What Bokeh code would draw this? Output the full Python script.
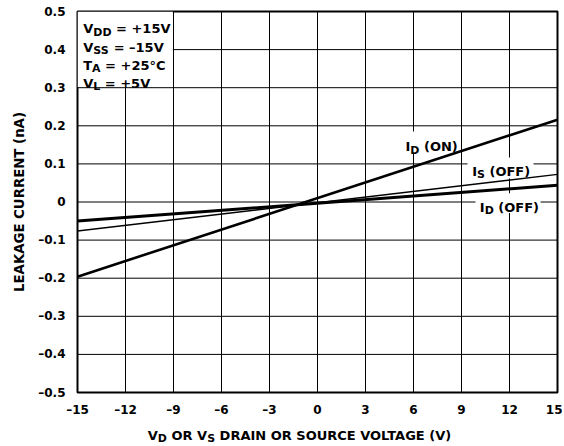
from bokeh.plotting import figure
from bokeh.models import Label, FixedTicker, Range1d
from bokeh.layouts import column
from bokeh.embed import file_html
from bokeh.resources import INLINE

# ---- data ----
x_ticks = [-15, -12, -9, -6, -3, 0, 3, 6, 9, 12, 15]
x_tick_labels = ["–15", "–12", "–9", "–6", "–3", "0", "3", "6", "9", "12", "15"]
y_ticks = [-0.5, -0.4, -0.3, -0.2, -0.1, 0, 0.1, 0.2, 0.3, 0.4, 0.5]
y_tick_labels = ["–0.5", "–0.4", "–0.3", "–0.2", "–0.1", "0", "0.1", "0.2", "0.3", "0.4", "0.5"]

v_drain = [-15, 15]
id_on = [-0.196, 0.216]
is_off = [-0.076, 0.0725]
id_off = [-0.05, 0.044]

FONT = "DejaVu Sans"
W = 562
ML, MR, MT, MB = 77, 5, 11, 26
FH = 382
H1 = MT + FH + MB
H2 = 25
PX_PER_Y = FH / 1.0

p = figure(width=W, height=H1, x_range=Range1d(-15, 15), y_range=Range1d(-0.5, 0.5),
           output_backend="svg", toolbar_location=None,
           min_border_left=ML, min_border_right=MR, min_border_top=MT, min_border_bottom=MB)
p.background_fill_color = "white"
p.border_fill_color = "white"
p.outline_line_color = "black"
p.outline_line_width = 2
p.grid.visible = False

p.xaxis.ticker = FixedTicker(ticks=x_ticks)
p.yaxis.ticker = FixedTicker(ticks=y_ticks)
p.xaxis.major_label_overrides = {t: l for t, l in zip(x_ticks, x_tick_labels)}
p.yaxis.major_label_overrides = {t: l for t, l in zip(y_ticks, y_tick_labels)}

for ax in (p.xaxis, p.yaxis):
    ax.axis_line_color = None
    ax.major_tick_line_color = None
    ax.minor_tick_line_color = None
    ax.major_label_text_font = FONT
    ax.major_label_text_font_style = "bold"
    ax.major_label_text_font_size = "12px"
    ax.major_label_text_color = "black"
p.xaxis.major_label_standoff = 4
p.yaxis.major_label_standoff = 6
p.yaxis.axis_label = "LEAKAGE CURRENT (nA)"
p.yaxis.axis_label_text_font = FONT
p.yaxis.axis_label_text_font_style = "bold"
p.yaxis.axis_label_text_font_size = "13.3px"
p.yaxis.axis_label_text_color = "black"
p.yaxis.axis_label_standoff = 8

# grid lines at the tick positions
p.segment(x0=x_ticks, x1=x_ticks, y0=[-0.5] * len(x_ticks), y1=[0.5] * len(x_ticks),
          line_color="black", line_width=1)
p.segment(x0=[-15] * len(y_ticks), x1=[15] * len(y_ticks), y0=y_ticks, y1=y_ticks,
          line_color="black", line_width=1)

# white boxes (conditions panel and curve-label backgrounds)
p.quad(left=[-15, 5.25, 9.375, 9.875], right=[-9.04, 8.875, 13.5, 13.94],
       bottom=[0.3016, 0.130, 0.062, -0.029], top=[0.5, 0.185, 0.117, 0.023],
       fill_color="white", line_color=None)

# curves
p.line(v_drain, id_on, line_color="black", line_width=2.6)
p.line(v_drain, is_off, line_color="black", line_width=1.5)
p.line(v_drain, id_off, line_color="black", line_width=3)

# DejaVu Sans Bold advance widths (em)
ADV = {' ': 0.348, '(': 0.457, ')': 0.457, '+': 0.838, '=': 0.838, '–': 0.5, '°': 0.5,
       'A': 0.774, 'C': 0.734, 'D': 0.830, 'E': 0.683, 'F': 0.65, 'G': 0.821, 'I': 0.372,
       'K': 0.775, 'L': 0.637, 'N': 0.837, 'O': 0.850, 'R': 0.770, 'S': 0.720, 'T': 0.682,
       'U': 0.812, 'V': 0.774, 'n': 0.712}


def tw(s, size):
    return sum(ADV.get(c, 0.696) for c in s) * size


def rich(fig, parts, x, y, px_per_y, size=13, sub_size=11, drop=3.2):
    off = 0.0
    for txt, sub in parts:
        fs = sub_size if sub else size
        lead = len(txt) - len(txt.lstrip(" "))
        core = txt.strip(" ")
        trail = len(txt) - len(txt.rstrip(" "))
        off += lead * ADV[" "] * fs
        yy = y - (drop / px_per_y if sub else 0)
        fig.add_layout(Label(x=x, y=yy, x_offset=off, text=core, text_font=FONT,
                             text_font_style="bold", text_font_size=f"{fs}px",
                             text_color="black", text_align="left",
                             text_baseline="alphabetic"))
        off += tw(core, fs) + trail * ADV[" "] * fs


def px_to_x(px):
    return -15 + (px - 77) / 16.0


def py_to_y(py):
    return 0.5 - (py - 11) / 382.0


# conditions panel
rich(p, [("V", False), ("DD", True), (" = +15V", False)], px_to_x(82.7), py_to_y(28.5), PX_PER_Y)
rich(p, [("V", False), ("SS", True), (" = –15V", False)], px_to_x(82.7), py_to_y(46.8), PX_PER_Y)
rich(p, [("T", False), ("A", True), (" = +25°C", False)], px_to_x(82.7), py_to_y(65.1), PX_PER_Y)
rich(p, [("V", False), ("L", True), (" = +5V", False)], px_to_x(82.7), py_to_y(83.4), PX_PER_Y)

# curve labels
rich(p, [("I", False), ("D", True), (" (ON)", False)], px_to_x(405), py_to_y(146.7), PX_PER_Y)
rich(p, [("I", False), ("S", True), (" (OFF)", False)], px_to_x(471.7), py_to_y(171.7), PX_PER_Y)
rich(p, [("I", False), ("D", True), (" (OFF)", False)], px_to_x(479.3), py_to_y(207.7), PX_PER_Y)

# x axis title in a strip below (its frame is aligned with the main frame)
t = figure(width=W, height=H2, x_range=Range1d(-15, 15), y_range=Range1d(0, H2),
           output_backend="svg", toolbar_location=None, x_axis_type=None, y_axis_type=None,
           min_border_left=ML, min_border_right=MR, min_border_top=0, min_border_bottom=0)
t.outline_line_color = None
t.grid.visible = False
t.background_fill_color = "white"
t.border_fill_color = "white"
rich(t, [("V", False), ("D", True), (" OR V", False), ("S", True),
         (" DRAIN OR SOURCE VOLTAGE (V)", False)], px_to_x(147.3), H2 - (435.0 - H1), 1.0, drop=3.0)

layout = column(p, t, spacing=0)
open("out.html", "w").write(file_html(layout, INLINE))
